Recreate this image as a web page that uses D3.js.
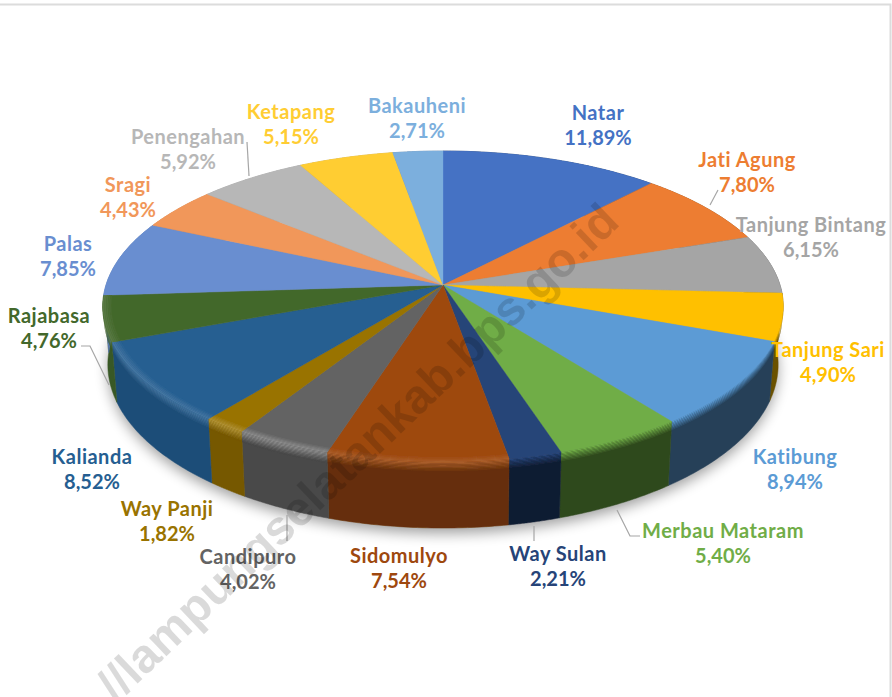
<!DOCTYPE html>
<html>
<head>
<meta charset="utf-8">
<style>
  html, body { margin: 0; padding: 0; background: #fff; }
  svg { display: block; }
  text { font-family: Lato, "Noto Sans", sans-serif; font-weight: 700; font-size: 20px; letter-spacing: 0.5px; }
  text.pct { letter-spacing: 0; }
</style>
<script src="https://d3js.org/d3.v7.min.js"></script>
</head>
<body>
<div id="chart"></div>
<script>
var districts = ["Natar", "Jati Agung", "Tanjung Bintang", "Tanjung Sari", "Katibung", "Merbau Mataram",
    "Way Sulan", "Sidomulyo", "Candipuro", "Way Panji", "Kalianda", "Rajabasa", "Palas", "Sragi",
    "Penengahan", "Ketapang", "Bakauheni"];
var shares = [11.89, 7.80, 6.15, 4.90, 8.94, 5.40, 2.21, 7.54, 4.02, 1.82, 8.52, 4.76, 7.85, 4.43, 5.92, 5.15, 2.71];
var colors = ["#4472c4", "#ed7d31", "#a5a5a5", "#ffc000", "#5b9bd5", "#70ad47", "#264478", "#9e480e", "#636363",
    "#997300", "#255e91", "#43682b", "#698ed0", "#f1975a", "#b7b7b7", "#ffcd33", "#7cafdd"];

// label centres, placed by hand like the dragged labels of the original
var labelX = [598, 747, 811, 828, 795, 723, 558, 399, 248, 167, 92, 49, 68, 128, 188, 291, 417];
var labelY = [112, 159, 224, 349, 456, 530, 553, 555, 556, 508, 456, 315, 243, 184, 136, 111, 105];
var leaders = [
    [[710, 205], [718, 190]],
    [[287, 515], [287, 541]],
    [[534, 526], [534, 541]],
    [[617, 510], [630, 536], [640, 536]],
    [[81, 346], [90, 346], [109, 385]],
    [[247, 142], [249, 176]]
];

var width = 892, height = 697;
var cx = 443, cy = 285;
var rx = 337, ry = 152.5, persp = 0.138, depth = 57;

// perspective projection of the unit disc, angle clockwise from 12 o'clock
function project(a, r) {
    var u = Math.sin(a) * r, v = Math.cos(a) * r, w = 1 + persp * v;
    return [cx + rx * u / w, cy - ry * v / w];
}
// point on the outer wall, d goes from 0 (rim) to 1 (floor)
function wallPoint(a, d) {
    var p = project(a, 1), w = 1 + persp * Math.cos(a);
    return [cx + (p[0] - cx) * (1 - 0.015 * d), p[1] + d * depth / w];
}
function arcAngles(d) {
    return d3.range(0, 41).map(function (i) {
        return d.startAngle + (d.endAngle - d.startAngle) * i / 40;
    });
}

var svg = d3.select("#chart").append("svg").attr("width", width).attr("height", height);
var defs = svg.append("defs");
defs.append("filter").attr("id", "soft").attr("x", "-20%").attr("y", "-20%").attr("width", "140%").attr("height", "140%")
    .append("feGaussianBlur").attr("stdDeviation", 7);
defs.append("filter").attr("id", "edge").attr("x", "-5%").attr("y", "-5%").attr("width", "110%").attr("height", "110%")
    .append("feGaussianBlur").attr("stdDeviation", 0.6);

// frame
var line = d3.line();
svg.append("path").attr("d", line([[0, 4.5], [890.5, 4.5], [890.5, height]]))
    .attr("fill", "none").attr("stroke", "#dcdcdc").attr("stroke-width", 2);

var pie = d3.pie().sort(null).value(function (d) { return d; });
var arcs = pie(shares);

// wall darkness and rim light both follow the side the slice is on
var wallShade = d3.scaleLinear().domain([-0.9, -0.3, 0.05, 0.2]).range([0.85, 0.7, 0.62, 0.42]).clamp(true);
var rimLight = d3.scaleLinear().domain([-0.9, -0.3, 0.1]).range([0.12, 0.3, 0]).clamp(true);

function mid(d) { return (d.startAngle + d.endAngle) / 2; }
function shade(c, k) {
    var o = d3.rgb(c);
    return d3.rgb(o.r * k, o.g * k, o.b * k).formatHex();
}

// shadow under the pie
svg.append("path")
    .attr("d", line(d3.range(0, 181).map(function (i) { return wallPoint(i * Math.PI / 90, 1.08); })) + "Z")
    .attr("fill", "#000").attr("opacity", 0.38).attr("filter", "url(#soft)");

var pieG = svg.append("g").attr("filter", "url(#edge)");

// outer walls
pieG.selectAll("path.wall").data(arcs).enter().append("path")
    .attr("class", "wall")
    .attr("d", function (d) {
        var as = arcAngles(d);
        var top = as.map(function (a) { return wallPoint(a, 0); });
        var bottom = as.slice().reverse().map(function (a) { return wallPoint(a, 1); });
        return line(top.concat(bottom)) + "Z";
    })
    .attr("fill", function (d, i) { return shade(colors[i], wallShade(Math.sin(mid(d)))); })
    .attr("stroke", function (d, i) { return shade(colors[i], wallShade(Math.sin(mid(d)))); })
    .attr("stroke-width", 0.5);

// rim band, strips fading from the lit edge into the wall
var rimSteps = d3.range(0, 8);
arcs.forEach(function (d, i) {
    var lit = d3.interpolateRgb(colors[i], "#fff")(rimLight(Math.sin(mid(d))));
    var wall = shade(colors[i], wallShade(Math.sin(mid(d))));
    var fade = d3.interpolateRgb(lit, wall);
    rimSteps.forEach(function (s) {
        var as = arcAngles(d);
        var top = as.map(function (a) { return wallPoint(a, s * 0.02); });
        var bottom = as.slice().reverse().map(function (a) { return wallPoint(a, (s + 1) * 0.02); });
        pieG.append("path")
            .attr("d", line(top.concat(bottom)) + "Z")
            .attr("fill", fade(s / 7));
    });
});

// top faces
pieG.selectAll("path.face").data(arcs).enter().append("path")
    .attr("class", "face")
    .attr("d", function (d) {
        var pts = arcAngles(d).map(function (a) { return project(a, 1); });
        return line([[cx, cy]].concat(pts)) + "Z";
    })
    .attr("fill", function (d, i) { return colors[i]; })
    .attr("stroke", function (d, i) { return colors[i]; })
    .attr("stroke-width", 0.4);

// lit inner edge of the face on the left hand side
arcs.forEach(function (d, i) {
    var strength = rimLight(Math.sin(mid(d)));
    if (Math.cos(mid(d)) > 0 || strength === 0) return;
    var lit = d3.interpolateRgb(colors[i], "#fff")(strength);
    var fade = d3.interpolateRgb(colors[i], lit);
    d3.range(0, 5).forEach(function (s) {
        var as = arcAngles(d);
        var outer = as.map(function (a) { return project(a, 0.975 + (s + 1) * 0.005); });
        var inner = as.slice().reverse().map(function (a) { return project(a, 0.975 + s * 0.005); });
        pieG.append("path")
            .attr("d", line(outer.concat(inner)) + "Z")
            .attr("fill", fade((s + 1) / 5));
    });
});

// leader lines
svg.selectAll("path.leader").data(leaders).enter().append("path")
    .attr("class", "leader")
    .attr("d", function (d) { return line(d); })
    .attr("fill", "none").attr("stroke", "#a6a6a6").attr("stroke-width", 1.2);

// labels
var labels = svg.selectAll("g.label").data(districts).enter().append("g")
    .attr("class", "label")
    .attr("transform", function (d, i) { return "translate(" + labelX[i] + "," + labelY[i] + ")"; })
    .attr("fill", function (d, i) { return colors[i]; })
    .attr("text-anchor", "middle");
labels.append("text").attr("y", 7.5).text(function (d) { return d; });
labels.append("text").attr("class", "pct").attr("y", 33).text(function (d, i) {
    return shares[i].toFixed(2).replace(".", ",") + "%";
});

// watermark
svg.append("text")
    .attr("transform", "translate(116,704) rotate(-43.5)")
    .attr("fill", "#000").attr("opacity", 0.14)
    .style("font-family", "'Liberation Sans', sans-serif")
    .style("font-size", "47.7px")
    .style("letter-spacing", "0")
    .text("//lampungselatankab.bps.go.id");
</script>
</body>
</html>
